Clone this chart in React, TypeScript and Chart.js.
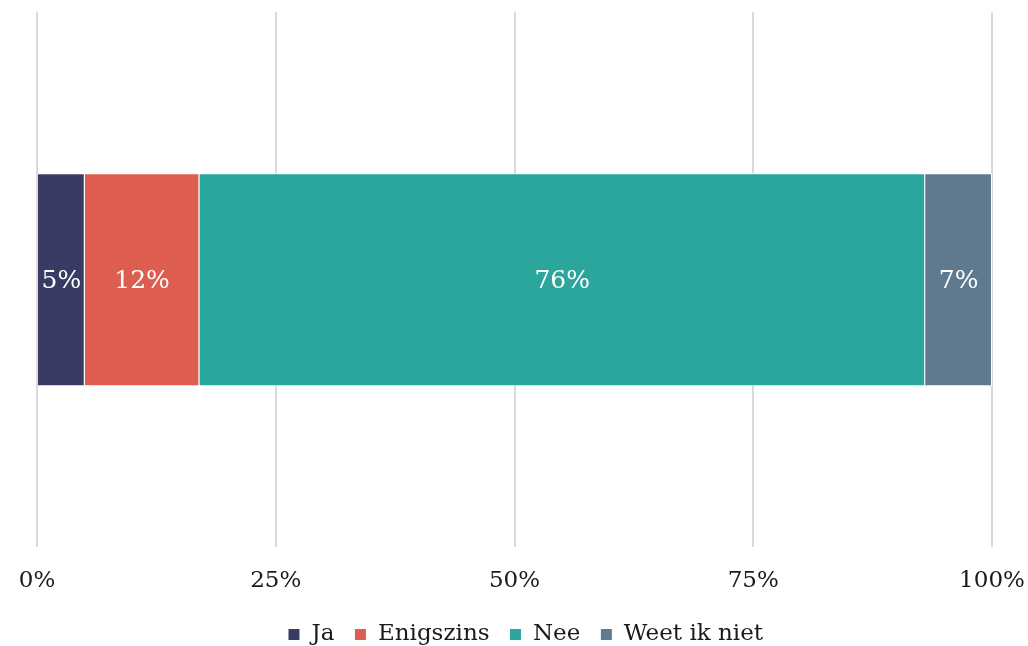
import React, { useEffect, useRef } from "react";
import { Chart, registerables } from "chart.js";

Chart.register(...registerables);

const categories = [""];
const seriesNames = ["Ja", "Enigszins", "Nee", "Weet ik niet"];
const seriesValues = [[5], [12], [76], [7]];
const seriesColors = ["#383c65", "#de5d51", "#2aa69c", "#5f7a8f"];
const tickValues = [0, 25, 50, 75, 100];

const FONT = "'DejaVu Serif', serif";

const labelPlugin = {
  id: "barLabels",
  afterDatasetsDraw(chart: any) {
    const ctx = chart.ctx;
    ctx.save();
    ctx.fillStyle = "#ffffff";
    ctx.font = `25px ${FONT}`;
    ctx.textAlign = "center";
    ctx.textBaseline = "middle";
    chart.data.datasets.forEach((ds: any, i: number) => {
      const meta = chart.getDatasetMeta(i);
      meta.data.forEach((el: any, j: number) => {
        const v = ds.data[j];
        const x = (el.x + el.base) / 2;
        ctx.fillText(`${v}%`, x, el.y + 2);
      });
    });
    ctx.restore();
  },
};

const legendShiftPlugin = {
  id: "legendShift",
  afterLayout(chart: any) {
    const lg = chart.legend;
    if (lg) {
      lg.left += 11;
      lg.right += 11;
    }
  },
};

export default function App() {
  const ref = useRef<HTMLCanvasElement | null>(null);
  useEffect(() => {
    if (!ref.current) return;
    const chart = new Chart(ref.current, {
      type: "bar",
      data: {
        labels: categories,
        datasets: seriesNames.map((name, i) => ({
          label: name,
          data: seriesValues[i],
          backgroundColor: seriesColors[i],
          borderColor: "#ffffff",
          borderWidth: 1,
          categoryPercentage: 0.8,
          barPercentage: 0.497,
        })),
      },
      options: {
        indexAxis: "y",
        animation: false,
        responsive: true,
        maintainAspectRatio: false,
        layout: { padding: { left: 37, right: 36, top: 12, bottom: 0 } },
        scales: {
          x: {
            stacked: true,
            min: 0,
            max: 100,
            afterBuildTicks: (axis: any) => {
              axis.ticks = tickValues.map((v) => ({ value: v }));
            },
            afterFit: (axis: any) => {
              axis.paddingLeft = 0;
              axis.paddingRight = 0;
              axis.height -= 12;
            },
            ticks: {
              callback: (v: any) => `${v}%`,
              color: "#1a1a1a",
              font: { family: FONT, size: 23 },
              padding: 20,
              maxRotation: 0,
            },
            grid: { color: "#dadada", lineWidth: 2, drawTicks: false },
            border: { display: false },
          },
          y: {
            stacked: true,
            display: false,
            grid: { display: false },
          },
        },
        plugins: {
          legend: {
            position: "bottom",
            labels: {
              boxWidth: 12,
              boxHeight: 12,
              color: "#1a1a1a",
              font: { family: FONT, size: 23 },
              padding: 20,
            },
          },
          tooltip: { enabled: false },
        },
      },
      plugins: [labelPlugin, legendShiftPlugin],
    });
    return () => chart.destroy();
  }, []);
  return (
    <div style={{ position: "fixed", left: 0, top: 0, width: 1028, height: 656, background: "#fff" }}>
      <canvas ref={ref} />
    </div>
  );
}
